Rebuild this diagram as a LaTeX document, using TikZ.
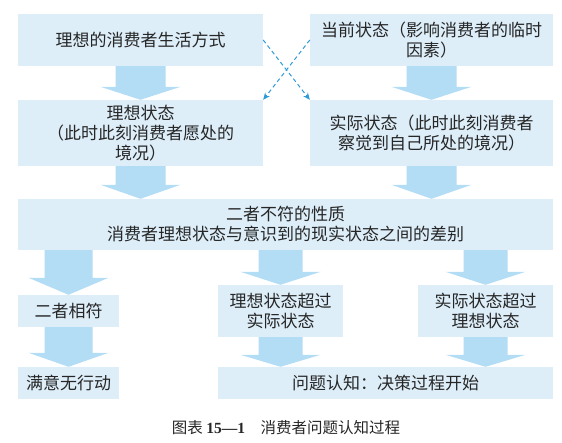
\documentclass[tikz,border=0pt]{standalone}
\usepackage{fontspec}
\setmainfont{Noto Sans CJK SC}
\newfontfamily\numfont{Liberation Serif}
\usetikzlibrary{calc,arrows.meta}
\definecolor{boxfill}{HTML}{DDEEF9}
\definecolor{arrfill}{HTML}{B3DCF5}
\definecolor{dashblue}{HTML}{2F9AD8}
\newcommand\blkarrow[6]{% x-node, from, to, head length, half stem, half head
  \fill[arrfill] let \p0=(#1.center), \p1=(#2.south), \p2=(#3.north) in
    (\x0-#5pt,\y1) -- (\x0+#5pt,\y1) -- (\x0+#5pt,\y2+#4pt) -- (\x0+#6pt,\y2+#4pt)
    -- (\x0,\y2) -- (\x0-#6pt,\y2+#4pt) -- (\x0-#5pt,\y2+#4pt) -- cycle;}
\begin{document}
\begin{tikzpicture}[x=1pt,y=-1pt,
  box/.style={fill=boxfill, inner sep=0pt, align=center,
    font=\fontsize{17}{20}\selectfont, text=black!85},
  dasharrow/.style={draw=dashblue, line width=1pt, dash pattern=on 4pt off 3pt,
    -{Stealth[length=7pt,width=6pt]}}]
\useasboundingbox (0,0) rectangle (562,443);
\node[box, minimum width=245pt, minimum height=52pt] (b1) at (140.5,40) {理想的消费者生活方式};
\node[box, minimum width=243pt, minimum height=52pt] (b2) at (431.5,40) {当前状态（影响消费者的临时\\因素）};
\node[box, minimum width=245pt, minimum height=66pt] (b3) at (140.5,133) {理想状态\\（此时此刻消费者愿处的\\境况）};
\node[box, minimum width=243pt, minimum height=66pt] (b4) at (431.5,133) {实际状态（此时此刻消费者\\察觉到自己所处的境况）};
\node[box, minimum width=535pt, minimum height=51pt] (b5) at (285.5,224.5) {二者不符的性质\\消费者理想状态与意识到的现实状态之间的差别};
\node[box, minimum width=101pt, minimum height=32pt] (b6) at (68.5,311) {二者相符};
\node[box, minimum width=125pt, minimum height=52pt] (b7) at (280.5,311) {理想状态超过\\实际状态};
\node[box, minimum width=135pt, minimum height=52pt] (b8) at (485.5,311) {实际状态超过\\理想状态};
\node[box, minimum width=101pt, minimum height=32pt] (b9) at (68.5,383) {满意无行动};
\node[box, minimum width=335pt, minimum height=32pt] (b10) at (385.5,383) {问题认知：决策过程开始};
\node[font=\fontsize{15.5}{18}\selectfont, text=black!85] (cap) at (286,428) {图表 {\numfont\bfseries 15—1}\quad 消费者问题认知过程};
\blkarrow{b1}{b1}{b3}{13}{25}{40}
\blkarrow{b2}{b2}{b4}{13}{25}{40}
\blkarrow{b3}{b3}{b5}{14}{25}{40}
\blkarrow{b4}{b4}{b5}{14}{25}{40}
\blkarrow{b6}{b5}{b6}{17}{24}{40}
\blkarrow{b7}{b5}{b7}{13}{22}{40}
\blkarrow{b8}{b5}{b8}{13}{22}{40}
\blkarrow{b6}{b6}{b9}{14}{24}{40}
\blkarrow{b7}{b7}{b10}{12}{22}{40}
\blkarrow{b8}{b8}{b10}{12}{22}{40}
\draw[dasharrow] (b1.east) -- (b4.north west);
\draw[dasharrow] (b2.west) -- (b3.north east);
\end{tikzpicture}
\end{document}
